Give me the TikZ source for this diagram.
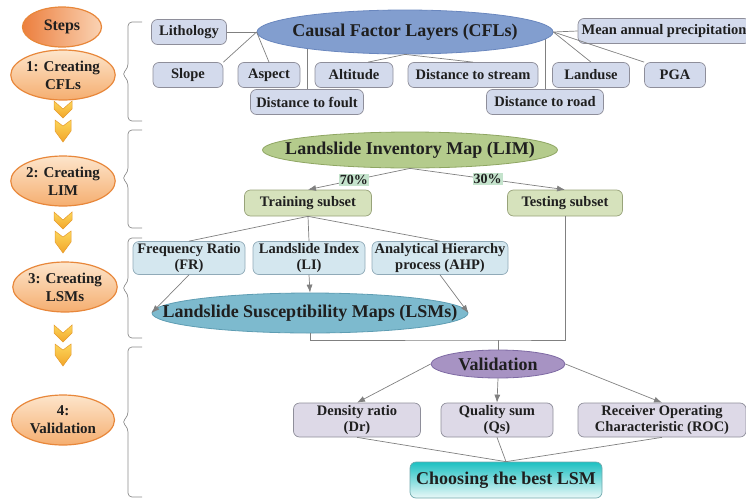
\documentclass[tikz,border=0pt]{standalone}
\usepackage{fontspec}
\setmainfont{Liberation Serif}
\usepackage{tikz}
\usetikzlibrary{shapes.geometric,calc,arrows.meta}

\definecolor{linegray}{HTML}{808080}
\definecolor{bracegray}{HTML}{8C8C8C}
\definecolor{stepline}{HTML}{E8873A}
\definecolor{steptop}{HTML}{FDE5CB}
\definecolor{stepbot}{HTML}{F5AE70}
\definecolor{stepsdark}{HTML}{EC7F3E}
\definecolor{stepslight}{HTML}{FAD3B4}
\definecolor{chevtop}{HTML}{FCD65A}
\definecolor{chevbot}{HTML}{F2A52A}
\definecolor{chevline}{HTML}{E59A2C}
\definecolor{cflfill}{HTML}{829ECF}
\definecolor{cflline}{HTML}{6A87BE}
\definecolor{boxfill}{HTML}{D3DAEC}
\definecolor{boxline}{HTML}{8E8E9A}
\definecolor{limfill}{HTML}{B4CB8C}
\definecolor{limline}{HTML}{8FA663}
\definecolor{subfill}{HTML}{D6E2BC}
\definecolor{subline}{HTML}{98A37A}
\definecolor{pctfill}{HTML}{C4E3CC}
\definecolor{methfill}{HTML}{D4E7EF}
\definecolor{methline}{HTML}{90AAB8}
\definecolor{lsmfill}{HTML}{7DBACE}
\definecolor{lsmline}{HTML}{5E9DB3}
\definecolor{valfill}{HTML}{A793C3}
\definecolor{valline}{HTML}{7E6AA3}
\definecolor{evalfill}{HTML}{DDD9E7}
\definecolor{besttop}{HTML}{1CC0C2}
\definecolor{bestbot}{HTML}{EAF8F8}
\definecolor{bestline}{HTML}{6FA8AC}

\newcommand\boxfont{\fontsize{14.5}{16.5}\selectfont\bfseries}
\newcommand\bigfont{\fontsize{18}{20}\selectfont\bfseries}
\newcommand\stepfont{\fontsize{15}{18}\selectfont\bfseries}

\pgfdeclarelayer{bg}
\pgfsetlayers{bg,main}

\begin{document}
\begin{tikzpicture}[x=1pt,y=-1pt,
	every node/.style={text=black!88},
	link/.style={draw=linegray,line width=0.7pt},
	arr/.style={link,-{Latex[length=8pt,width=6pt]}},
	brace/.style={draw=bracegray,line width=0.7pt,rounded corners=4pt},
	chev/.style={draw=chevline,line width=0.5pt,top color=chevtop,bottom color=chevbot},
	steplbl/.style={ellipse,draw=stepline,line width=1.2pt,top color=steptop,bottom color=stepbot,
		font=\stepfont,align=center,inner sep=0pt,minimum width=103pt,minimum height=50pt},
	bigell/.style={ellipse,line width=0.8pt,font=\bigfont,inner sep=0pt},
	rbox/.style={rectangle,rounded corners=6pt,line width=0.7pt,font=\boxfont,align=center,inner sep=1pt},
	cflbox/.style={rbox,draw=boxline,fill=boxfill,minimum height=25pt},
	subbox/.style={rbox,draw=subline,fill=subfill,minimum height=26pt},
	methbox/.style={rbox,draw=methline,fill=methfill,minimum height=33pt},
	evalbox/.style={rbox,draw=boxline,fill=evalfill,minimum height=34pt},
	pct/.style={fill=pctfill,inner sep=1pt,font=\fontsize{14}{15}\selectfont\bfseries}]
\useasboundingbox (0,0) rectangle (746,498);

%steps on the left
\node[steplbl,left color=stepsdark,right color=stepslight,minimum width=79pt,minimum height=40pt,
	font=\fontsize{16}{18}\selectfont\bfseries] (steps) at (62,27) {Steps};
\node[steplbl] (s1) at (63,75) {1: Creating\\CFLs};
\node[steplbl] (s2) at (63,181) {2: Creating\\LIM};
\node[steplbl] (s3) at (65,287) {3: Creating\\LSMs};
\node[steplbl] (s4) at (63,420) {4:\\Validation};

\foreach \y in {101,212,325}{
	\begin{scope}[shift={(63,\y)}]
		\path[chev] (-9,0) -- (0,8) -- (9,0) -- (9,8) -- (0,17) -- (-9,8) -- cycle;
		\path[chev] (-8,19) -- (0,25) -- (8,19) -- (8,30) -- (0,41) -- (-8,30) -- cycle;
	\end{scope}
}

\foreach \t/\m/\b in {22/74/121,130/178/228,238/288/338,347/422/497}{
	\draw[brace] (142,\t) -- (128,\t) -- (128,\m-6) -- (122,\m) -- (128,\m+6) -- (128,\b) -- (142,\b);
}

%step 1: causal factor layers
\node[bigell,draw=cflline,fill=cflfill,minimum width=296pt,minimum height=44pt] (cfl) at (405,32)
	{\makebox[0pt]{Causal Factor Layers (CFLs)}};
\node[cflbox,minimum width=75pt] (lith) at (189,32) {Lithology};
\node[cflbox,minimum width=70pt] (slope) at (188,75) {Slope};
\node[cflbox,minimum width=62pt] (aspect) at (269,75) {Aspect};
\node[cflbox,minimum width=78pt] (alt) at (354,75) {Altitude};
\node[cflbox,minimum width=130pt] (stream) at (473,75) {Distance to stream};
\node[cflbox,minimum width=77pt] (land) at (591,75) {Landuse};
\node[cflbox,minimum width=61pt] (pga) at (675,75) {PGA};
\node[cflbox,minimum width=172pt] (mean) at (664,31) {Mean annual precipitation};
\node[cflbox,minimum width=113pt] (foult) at (307,102) {Distance to foult};
\node[cflbox,minimum width=117pt] (road) at (545,102) {Distance to road};

\draw[link] (lith.east) -- (cfl.west);
\draw[link] (slope.north east) -- (cfl.west);
\draw[link] (aspect.north) -- (cfl.west);
\draw[link] (cfl.south) -- ($(alt.north)+(14,0)$);
\draw[link] (cfl.south) -- (stream.north);
\draw[link] (cfl.east) -- (land.north);
\draw[link] (cfl.east) -- (pga.north west);
\draw[link] (cfl.east) -- (mean.west);
\begin{pgfonlayer}{bg}
	\draw[link] (foult.north) -- (foult.north |- cfl.center);
	\draw[link] (road.north) -- (road.north |- cfl.center);
\end{pgfonlayer}

%step 2: inventory map
\node[bigell,draw=limline,fill=limfill,minimum width=295pt,minimum height=36pt] (lim) at (410,150)
	{\makebox[0pt]{Landslide Inventory Map (LIM)}};
\node[subbox,minimum width=127pt] (train) at (308,203) {Training subset};
\node[subbox,minimum width=115pt] (test) at (565,203) {Testing subset};
\draw[arr] (lim.south) -- node[pct,pos=0.55] (p70) {70\%} (train.north);
\draw[arr] (lim.south) -- node[pct,pos=0.5] (p30) {30\%} (test.north);

%step 3: susceptibility maps
\node[methbox,minimum width=112pt] (fr) at (189,258) {Frequency Ratio\\(FR)};
\node[methbox,minimum width=112pt] (li) at (309,258) {Landslide Index\\(LI)};
\node[methbox,minimum width=136pt] (ahp) at (440,258) {Analytical Hierarchy\\process (AHP)};
\node[bigell,draw=lsmline,fill=lsmfill,minimum width=316pt,minimum height=40pt] (lsm) at (310,313)
	{\makebox[0pt]{Landslide Susceptibility Maps (LSMs)}};
\draw[link] (train.south) -- (fr.north);
\draw[link] (train.south) -- (li.north);
\draw[link] (train.south) -- (ahp.north);
\draw[arr] (fr.south) -- (lsm.west);
\draw[arr] (li.south) -- (lsm.north);
\draw[arr] (ahp.south) -- (lsm.east);

%step 4: validation
\coordinate (joint) at (498,340);
\node[bigell,draw=valline,fill=valfill,minimum width=134pt,minimum height=28pt] (val) at (498,364) {Validation};
\draw[link] (test.south) |- (joint) -| (lsm.south);
\draw[link] (joint) -- (val.north);

\node[evalbox,minimum width=127pt] (dr) at (357,420) {Density ratio\\(Dr)};
\node[evalbox,minimum width=112pt] (qs) at (497,420) {Quality sum\\(Qs)};
\node[evalbox,minimum width=168pt] (roc) at (662,420) {Receiver Operating\\Characteristic (ROC)};
\node[rbox,draw=bestline,top color=besttop,bottom color=bestbot,font=\bigfont,
	minimum width=192pt,minimum height=36pt] (best) at (506,480) {Choosing the best LSM};
\draw[arr] (val.west) -- (dr.north);
\draw[arr] (val.south) -- (qs.north);
\draw[arr] (val.east) -- (roc.north);
\draw[link] (dr.south) -- (best.north);
\draw[link] (qs.south) -- (best.north);
\draw[link] (roc.south) -- (best.north);
\end{tikzpicture}
\end{document}
